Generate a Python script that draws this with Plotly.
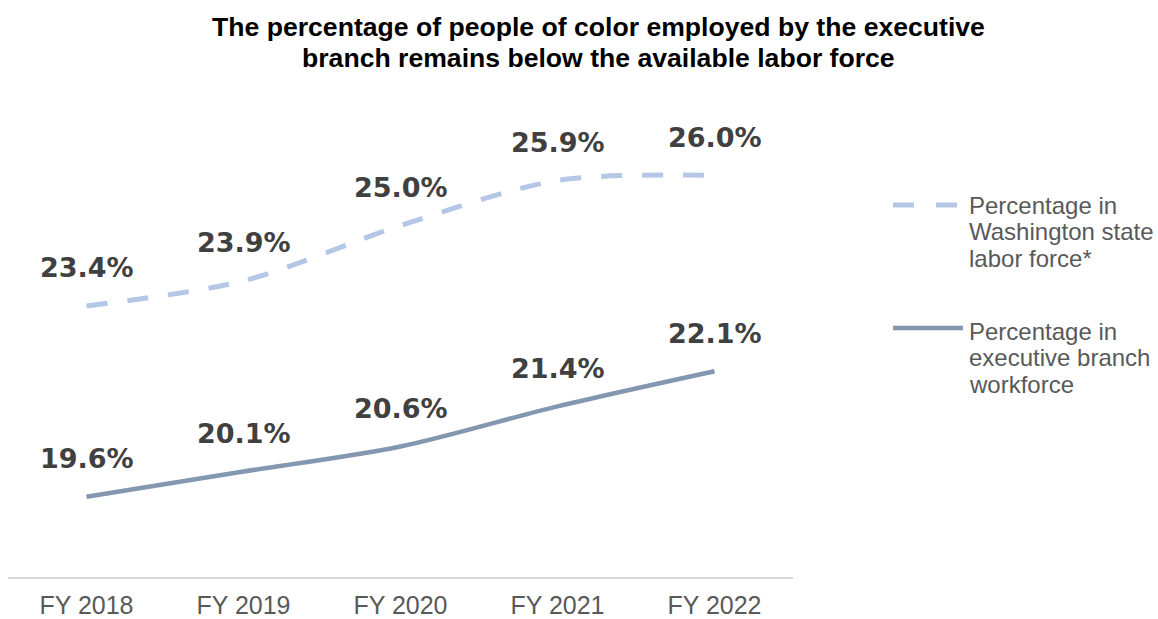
import plotly.graph_objects as go

# Fiscal years and the share of people of color (%)
years = ["FY 2018", "FY 2019", "FY 2020", "FY 2021", "FY 2022"]
labor_force = [23.4, 23.9, 25.0, 25.9, 26.0]
exec_workforce = [19.6, 20.1, 20.6, 21.4, 22.1]

labor_name = ["Percentage in", "Washington state", "labor force*"]
exec_name = ["Percentage in", "executive branch", "workforce"]
title_lines = [
    "The percentage of people of color employed by the executive",
    "branch remains below the available labor force",
]

LABOR_COLOR = "#B4C7E7"
EXEC_COLOR = "#8497B0"
LABEL_COLOR = "#404040"
TEXT_COLOR = "#595959"

W, H = 1158, 619
L, R, T, B = 8, 365, 75, 42


def px(x):
    """Page pixel x -> paper fraction."""
    return (x - L) / (W - L - R)


def py(y):
    """Page pixel y -> paper fraction."""
    return 1 - (y - T) / (H - T - B)


fig = go.Figure()

fig.add_trace(go.Scatter(
    x=years, y=labor_force, mode="lines",
    line=dict(color=LABOR_COLOR, width=5, dash="21px,20px",
              shape="spline", smoothing=0.85),
    showlegend=False, hoverinfo="skip",
))
fig.add_trace(go.Scatter(
    x=years, y=exec_workforce, mode="lines",
    line=dict(color=EXEC_COLOR, width=4.5, shape="spline", smoothing=0.85),
    showlegend=False, hoverinfo="skip",
))

annotations = []
# value labels above each point
for series in (labor_force, exec_workforce):
    for yr, v in zip(years, series):
        annotations.append(dict(
            x=yr, y=v, xref="x", yref="y", text=f"<b>{v:.1f}%</b>",
            showarrow=False, yshift=38, xanchor="center", yanchor="middle",
            font=dict(family="DejaVu Sans", size=27, color=LABEL_COLOR),
        ))

# title, one annotation per line
for i, line in enumerate(title_lines):
    annotations.append(dict(
        x=px(598), y=py(27 + 31 * i), xref="paper", yref="paper",
        text=f"<b>{line}</b>", showarrow=False, xanchor="center", yanchor="middle",
        font=dict(family="Liberation Sans", size=26.6, color="#000000"),
    ))

# legend text
for top, names in ((205, labor_name), (331, exec_name)):
    for i, line in enumerate(names):
        annotations.append(dict(
            x=px(967), y=py(top + 26.5 * i), xref="paper", yref="paper",
            text=line, showarrow=False, xanchor="left", yanchor="middle",
            font=dict(family="Liberation Sans", size=24, color=TEXT_COLOR),
        ))

# legend samples
shapes = [
    dict(type="line", xref="paper", yref="paper",
         x0=px(893), x1=px(957), y0=py(205), y1=py(205),
         line=dict(color=LABOR_COLOR, width=5, dash="21px,22px")),
    dict(type="line", xref="paper", yref="paper",
         x0=px(893), x1=px(963), y0=py(328), y1=py(328),
         line=dict(color=EXEC_COLOR, width=4.5)),
]

fig.update_layout(
    width=W, height=H,
    margin=dict(l=L, r=R, t=T, b=B, autoexpand=False),
    paper_bgcolor="white", plot_bgcolor="white",
    showlegend=False,
    annotations=annotations,
    shapes=shapes,
    xaxis=dict(
        type="category", range=[-0.5, 4.5], showgrid=False, zeroline=False,
        showline=True, linecolor="#D9D9D9", linewidth=1.5, ticks="",
        tickfont=dict(family="Liberation Sans", size=25, color=TEXT_COLOR),
        ticklabelstandoff=5, automargin=False,
    ),
    yaxis=dict(range=[18, 28], visible=False, showgrid=False, zeroline=False),
)

fig.write_html("out.html")
